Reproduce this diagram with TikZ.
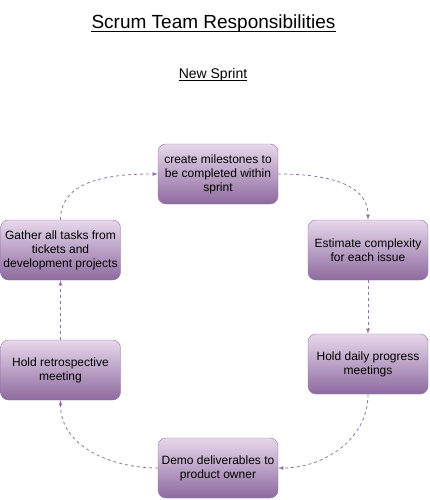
\documentclass[tikz,border=0pt]{standalone}
\usepackage{fontspec}
\setmainfont{Liberation Sans}
\usetikzlibrary{arrows}
\definecolor{lilac}{HTML}{9673A6}
\definecolor{lilactop}{HTML}{E6D8EB}
\definecolor{lilacbot}{HTML}{8E6A9F}
\tikzset{
  task/.style={rectangle, rounded corners=8pt, draw=lilac, top color=lilactop, bottom color=lilacbot,
    minimum width=120pt, minimum height=60pt, align=center, inner sep=0pt,
    font=\fontsize{12}{14}\selectfont},
  flow/.style={-latex, dash pattern=on 3pt off 3pt, color=lilac, line width=0.8pt},
  heading/.style={inner sep=0pt}
}
\begin{document}
\begin{tikzpicture}[x=1pt,y=-1pt]
\useasboundingbox (0,0) rectangle (430,500);
\node[heading, font=\fontsize{19}{23}\selectfont] (title) at (213.5,24) {Scrum Team Responsibilities};
\draw (title.base west) ++(0,2) -- ([yshift=-2pt]title.base east);
\node[heading, font=\fontsize{14}{17}\selectfont] (sprint) at (213,75) {New Sprint};
\draw (sprint.base west) ++(0,2) -- ([yshift=-2pt]sprint.base east);
% the six steps of the cycle
\node[task] (mile) at (218,174) {create milestones to\\be completed within\\sprint};
\node[task] (est) at (368,250) {Estimate complexity\\for each issue};
\node[task] (daily) at (368,364) {Hold daily progress\\meetings};
\node[task] (demo) at (218,468) {Demo deliverables to\\product owner};
\node[task] (retro) at (60.5,370) {Hold retrospective\\meeting};
\node[task] (gather) at (60.5,250) {Gather all tasks from\\tickets and\\development projects};
% connectors
\draw[flow] (mile.east) to[out=0,in=90] (est.north);
\draw[flow] (est.south) -- (daily.north);
\draw[flow] (daily.south) to[out=-90,in=0] (demo.east);
\draw[flow] (demo.west) to[out=180,in=-90] (retro.south);
\draw[flow] (retro.north) -- (gather.south);
\draw[flow] (gather.north) to[out=90,in=180] (mile.west);
\end{tikzpicture}
\end{document}
